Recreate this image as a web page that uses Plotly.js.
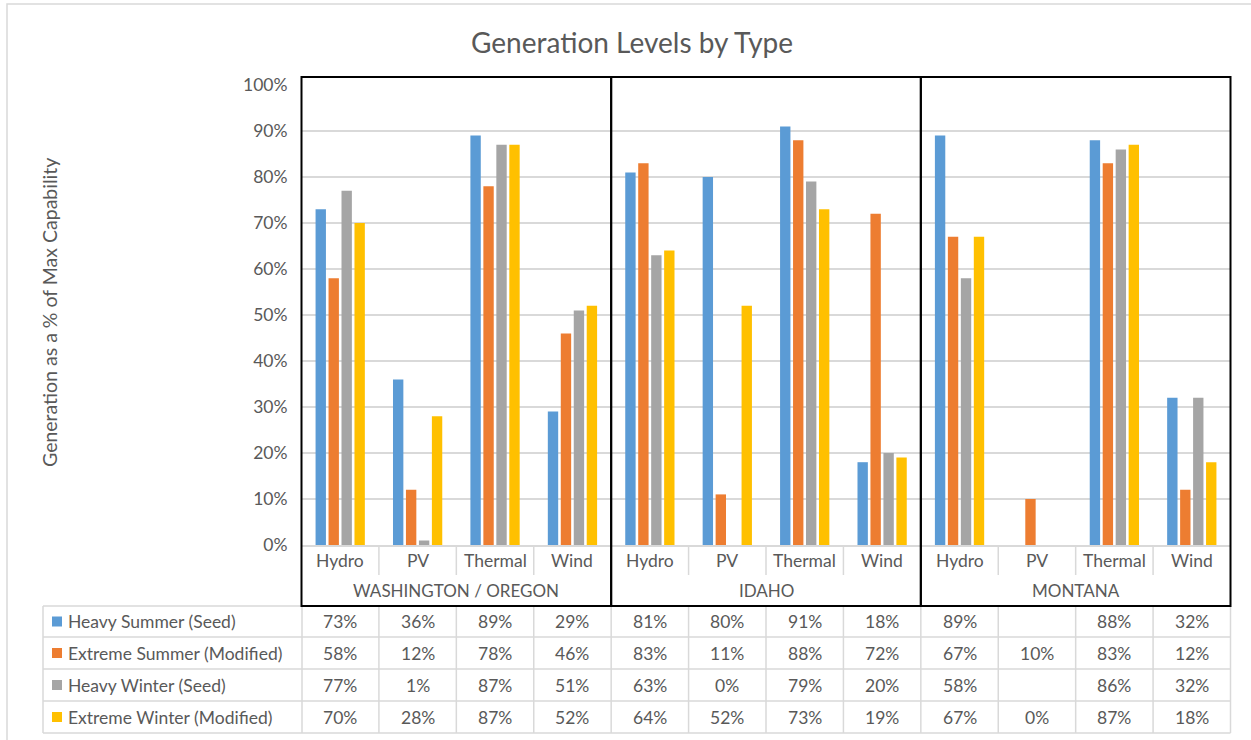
<!DOCTYPE html>
<html>
<head>
<meta charset="utf-8">
<script src="https://cdn.plot.ly/plotly-3.0.1.min.js"></script>
<style>
  html, body { margin: 0; padding: 0; background: #ffffff; }
  #chart { width: 1251px; height: 740px; }
</style>
</head>
<body>
<div id="chart"></div>
<script>
// Regions and generation types (two-level category axis)
const regions = ['WASHINGTON / OREGON', 'IDAHO', 'MONTANA'];
const types = ['Hydro', 'PV', 'Thermal', 'Wind'];

// Scenario series, % of max capability, in region/type order
const seriesNames = ['Heavy Summer (Seed)', 'Extreme Summer (Modified)', 'Heavy Winter (Seed)', 'Extreme Winter (Modified)'];
const seriesColors = ['#5B9BD5', '#ED7D31', '#A5A5A5', '#FFC000'];
const heavySummer   = [73, 36, 89, 29,  81, 80, 91, 18,  89, null, 88, 32];
const extremeSummer = [58, 12, 78, 46,  83, 11, 88, 72,  67, 10,   83, 12];
const heavyWinter   = [77, 1,  87, 51,  63, 0,  79, 20,  58, null, 86, 32];
const extremeWinter = [70, 28, 87, 52,  64, 52, 73, 19,  67, 0,    87, 18];
const seriesValues = [heavySummer, extremeSummer, heavyWinter, extremeWinter];

const chartTitle = 'Generation Levels by Type';
const yTitle = 'Generation as a % of Max Capability';

// Page geometry helpers (pixels -> paper fractions)
const W = 1251, H = 740;
const px = x => x / W;
const py = y => 1 - y / H;
const X0 = 301.5, X1 = 1230.5;          // plot area left/right
const Y0 = 545, Y100 = 85;              // 0% and 100% lines
const nCat = regions.length * types.length;
const catEdge = i => X0 + (X1 - X0) * i / nCat;

const FONT = 'Lato, "Open Sans", sans-serif';
const TXT = '#595959';
const GRID = '#D9D9D9';
const FS = 17.5;

// Two-level x coordinates
const xRegion = [], xType = [];
regions.forEach(r => types.forEach(t => { xRegion.push(r); xType.push(t); }));

const traces = seriesNames.map((name, k) => ({
  type: 'bar',
  name: name,
  x: [xRegion, xType],
  y: seriesValues[k],
  marker: { color: seriesColors[k] },
  hoverinfo: 'x+y+name'
}));

const shapes = [];
const annotations = [];

// Outer chart frame
shapes.push({ type: 'rect', xref: 'paper', yref: 'paper',
  x0: px(7), x1: 1.02, y0: py(4), y1: -0.02,
  line: { color: GRID, width: 1.5 }, layer: 'below' });

// Category divider ticks in the label row
for (let i = 1; i < nCat; i++) {
  if (i % types.length === 0) continue;
  shapes.push({ type: 'line', xref: 'paper', yref: 'paper',
    x0: px(catEdge(i)), x1: px(catEdge(i)), y0: py(Y0), y1: py(575),
    line: { color: GRID, width: 1.5 } });
}

// Data table grid
const rowEdges = [606, 637, 669, 701, 733];
rowEdges.forEach(y => shapes.push({ type: 'line', xref: 'paper', yref: 'paper',
  x0: px(43), x1: px(X1), y0: py(y), y1: py(y), line: { color: GRID, width: 1.5 } }));
const colEdges = [43, 302];
for (let i = 1; i <= nCat; i++) colEdges.push(catEdge(i));
colEdges.forEach(x => shapes.push({ type: 'line', xref: 'paper', yref: 'paper',
  x0: px(x), x1: px(x), y0: py(606), y1: py(733), line: { color: GRID, width: 1.5 } }));

// Region boxes
regions.forEach((r, g) => {
  shapes.push({ type: 'rect', xref: 'paper', yref: 'paper',
    x0: px(catEdge(g * types.length)), x1: px(catEdge((g + 1) * types.length)),
    y0: py(77), y1: py(606), line: { color: '#000000', width: 2 } });
});

// Title and y-axis title
annotations.push({ xref: 'paper', yref: 'paper', x: px(632), y: py(42),
  text: chartTitle, showarrow: false, xanchor: 'center', yanchor: 'middle',
  font: { family: FONT, size: 28, color: TXT } });
annotations.push({ xref: 'paper', yref: 'paper', x: px(49), y: py(313),
  text: yTitle, showarrow: false, textangle: -90, xanchor: 'center', yanchor: 'middle',
  font: { family: FONT, size: 19.5, color: TXT } });

// Category and region labels
for (let i = 0; i < nCat; i++) {
  annotations.push({ xref: 'x', yref: 'paper', x: i, y: py(560),
    text: xType[i], showarrow: false, xanchor: 'center', yanchor: 'middle',
    font: { family: FONT, size: FS, color: TXT } });
}
regions.forEach((r, g) => {
  annotations.push({ xref: 'x', yref: 'paper', x: g * types.length + (types.length - 1) / 2, y: py(590),
    text: r, showarrow: false, xanchor: 'center', yanchor: 'middle',
    font: { family: FONT, size: 17, color: TXT } });
});

// Data table rows: legend key, series name, values
const rowCenters = [621.5, 653, 685, 717];
seriesNames.forEach((name, k) => {
  const yc = rowCenters[k];
  shapes.push({ type: 'rect', xref: 'paper', yref: 'paper',
    x0: px(52), x1: px(62), y0: py(yc - 5), y1: py(yc + 5),
    fillcolor: seriesColors[k], line: { width: 0 } });
  annotations.push({ xref: 'paper', yref: 'paper', x: px(66), y: py(yc),
    text: name, showarrow: false, xanchor: 'left', yanchor: 'middle',
    font: { family: FONT, size: FS, color: TXT } });
  seriesValues[k].forEach((v, i) => {
    if (v === null) return;
    annotations.push({ xref: 'x', yref: 'paper', x: i, y: py(yc),
      text: v + '%', showarrow: false, xanchor: 'center', yanchor: 'middle',
      font: { family: FONT, size: FS, color: TXT } });
  });
});

const layout = {
  width: W, height: H,
  margin: { l: 0, r: 0, t: 0, b: 0 },
  paper_bgcolor: '#ffffff', plot_bgcolor: '#ffffff',
  showlegend: false,
  barmode: 'group',
  bargap: 0.33,
  bargroupgap: 0.2,
  font: { family: FONT, color: TXT },
  xaxis: {
    type: 'multicategory',
    domain: [px(X0), px(X1)],
    range: [-0.5, nCat - 0.5],
    showticklabels: false,
    showgrid: false,
    showline: true, linecolor: GRID, linewidth: 1.5,
    ticks: '', showdividers: false
  },
  yaxis: {
    domain: [py(Y0), py(Y100)],
    range: [0, 100],
    dtick: 10,
    ticksuffix: '%',
    showgrid: true, gridcolor: GRID, gridwidth: 1.5,
    zeroline: false,
    showline: false,
    ticks: '',
    ticklabelstandoff: 13,
    tickfont: { family: FONT, size: FS, color: TXT }
  },
  shapes: shapes,
  annotations: annotations
};

Plotly.newPlot('chart', traces, layout, { displayModeBar: false, responsive: false });
</script>
</body>
</html>
